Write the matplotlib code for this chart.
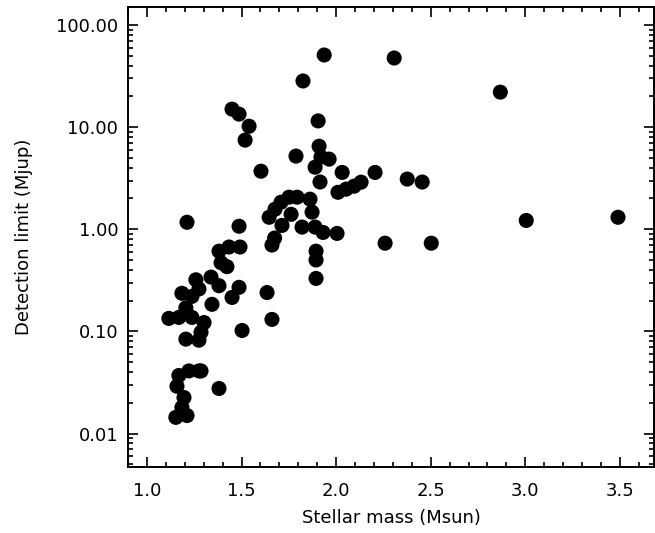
import numpy as np
import matplotlib
matplotlib.use('Agg')
import matplotlib.pyplot as plt
from matplotlib.ticker import MultipleLocator, LogLocator, FormatStrFormatter, NullFormatter

# =============================================================================
# Data
# =============================================================================

# stellar mass (Msun)
mass = [1.212, 1.487, 1.381, 1.434, 1.492, 1.392, 1.423, 1.259, 1.339, 1.381,
        1.185, 1.238, 1.275, 1.487, 1.450, 1.344, 1.635, 1.206, 1.116, 1.169,
        1.238, 1.302, 1.286, 1.503, 1.661, 1.206, 1.275, 1.169, 1.222, 1.286,
        1.159, 1.381, 1.196, 1.185, 1.153, 1.212, 1.275,
        1.646, 1.677, 1.709, 1.751, 1.794, 1.714, 1.762, 1.820, 1.862, 1.873,
        1.889, 1.931, 2.005, 1.661, 1.894, 1.894, 1.894, 1.675,
        1.937, 2.307, 2.868, 1.825, 1.450, 1.487, 1.540, 1.519, 1.905, 1.788,
        1.603, 1.910, 1.920, 1.963, 1.889, 1.915, 2.032, 2.206, 2.376, 2.455,
        2.010, 2.053, 2.095, 2.132, 2.503, 2.259, 3.005, 3.490]

# detection limit (Mjup)
mlim = [1.17, 1.07, 0.61, 0.67, 0.67, 0.47, 0.43, 0.32, 0.34, 0.28,
        0.236, 0.22, 0.26, 0.27, 0.215, 0.184, 0.24, 0.17, 0.134, 0.137,
        0.137, 0.122, 0.098, 0.102, 0.131, 0.084, 0.082, 0.037, 0.041, 0.041,
        0.029, 0.0276, 0.0225, 0.018, 0.0144, 0.015, 0.041,
        1.31, 1.57, 1.84, 2.06, 2.06, 1.09, 1.40, 1.05, 1.97, 1.47,
        1.05, 0.93, 0.91, 0.70, 0.61, 0.50, 0.33, 0.82,
        50.8, 47.5, 22.0, 28.3, 15.0, 13.4, 10.2, 7.46, 11.5, 5.2,
        3.7, 6.5, 5.1, 4.86, 4.05, 2.9, 3.6, 3.6, 3.1, 2.9,
        2.3, 2.47, 2.64, 2.89, 0.73, 0.73, 1.22, 1.31]

# =============================================================================
# Plot
# =============================================================================

plt.rcParams['font.family'] = 'DejaVu Sans'
plt.rcParams['font.size'] = 13

fig = plt.figure(figsize=(6.55, 5.33), dpi=100)
ax = fig.add_axes([0.1954, 0.1238, 0.8030, 0.8631])

ax.scatter(mass, mlim, s=118, c='k', edgecolors='none')

ax.set_yscale('log')
ax.set_xlim(0.9, 3.68)
ax.set_ylim(0.0047, 150)

ax.xaxis.set_major_locator(MultipleLocator(0.5))
ax.xaxis.set_minor_locator(MultipleLocator(0.1))
ax.xaxis.set_major_formatter(FormatStrFormatter('%.1f'))
ax.yaxis.set_major_locator(LogLocator(base=10, numticks=10))
ax.yaxis.set_minor_locator(LogLocator(base=10, subs=np.arange(2, 10), numticks=10))
ax.yaxis.set_major_formatter(FormatStrFormatter('%.2f'))
ax.yaxis.set_minor_formatter(NullFormatter())

ax.tick_params(which='both', direction='in', top=True, right=True, width=1.2)
ax.tick_params(which='major', length=7)
ax.tick_params(which='minor', length=3.5)
ax.tick_params(axis='x', pad=11)
ax.tick_params(axis='y', pad=7)
for s in ax.spines.values():
    s.set_linewidth(1.4)

ax.set_xlabel('Stellar mass (Msun)', labelpad=6)
ax.set_ylabel('Detection limit (Mjup)', labelpad=17)

fig.savefig('out.png', dpi=100)
